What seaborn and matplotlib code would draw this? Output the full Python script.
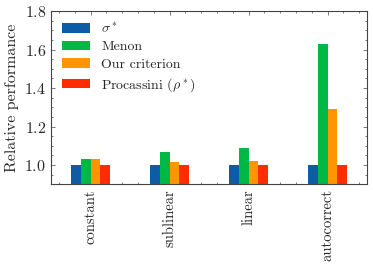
import pandas as pd
import matplotlib
matplotlib.use("Agg")
import matplotlib.pyplot as plt
from matplotlib.ticker import MultipleLocator, AutoMinorLocator
import seaborn as sns

# data
cases = ["constant", "sublinear", "linear", "autocorrect"]
methods = [r"$\sigma^*$", "Menon", "Our criterion", r"Procassini ($\rho^*$)"]
sigma_vals = [1.0, 1.0, 1.0, 1.0]
menon_vals = [1.03, 1.07, 1.09, 1.63]
ours_vals = [1.03, 1.015, 1.02, 1.29]
procassini_vals = [1.0, 1.0, 1.0, 1.0]
colors = ["#0C5DA5", "#00B945", "#FF9500", "#FF2C00"]

rows = []
for m, vals in zip(methods, [sigma_vals, menon_vals, ours_vals, procassini_vals]):
    for c, v in zip(cases, vals):
        rows.append({"case": c, "method": m, "value": v})
df = pd.DataFrame(rows)

sns.set_style("ticks")
plt.rcParams["font.family"] = ["cmr10", "DejaVu Serif"]
plt.rcParams["mathtext.fontset"] = "cm"
plt.rcParams["axes.formatter.use_mathtext"] = True
plt.rcParams["font.size"] = 10

fig = plt.figure(figsize=(3.73, 2.74), dpi=100)
ax = fig.add_axes([0.137, 0.327, 0.847, 0.633])

sns.barplot(data=df, x="case", y="value", hue="method", palette=colors,
            width=0.5, linewidth=0, saturation=1, ax=ax, errorbar=None)

ax.set_xlim(-0.5, 3.5)
ax.set_ylim(0.9, 1.8)
ax.yaxis.set_major_locator(MultipleLocator(0.2))
ax.yaxis.set_minor_locator(MultipleLocator(0.05))
ax.xaxis.set_minor_locator(AutoMinorLocator(5))
ax.set_xlabel("")
ax.set_ylabel("Relative performance", fontsize=11.5, labelpad=4)
ax.set_xticks(range(len(cases)))
ax.set_xticklabels(cases, rotation=90, fontsize=10.5)
ax.tick_params(axis="y", labelsize=11.5)
ax.tick_params(which="both", direction="in", top=True, right=True, width=0.5, color="#444444")
ax.tick_params(which="major", length=3)
ax.tick_params(which="minor", length=1.5)
for s in ax.spines.values():
    s.set_linewidth(0.8)
    s.set_color("#444444")

ax.legend(loc="upper left", frameon=False, fontsize=10, title=None,
          labelspacing=0.36, borderaxespad=0.4)

fig.savefig("out.png", dpi=100)
